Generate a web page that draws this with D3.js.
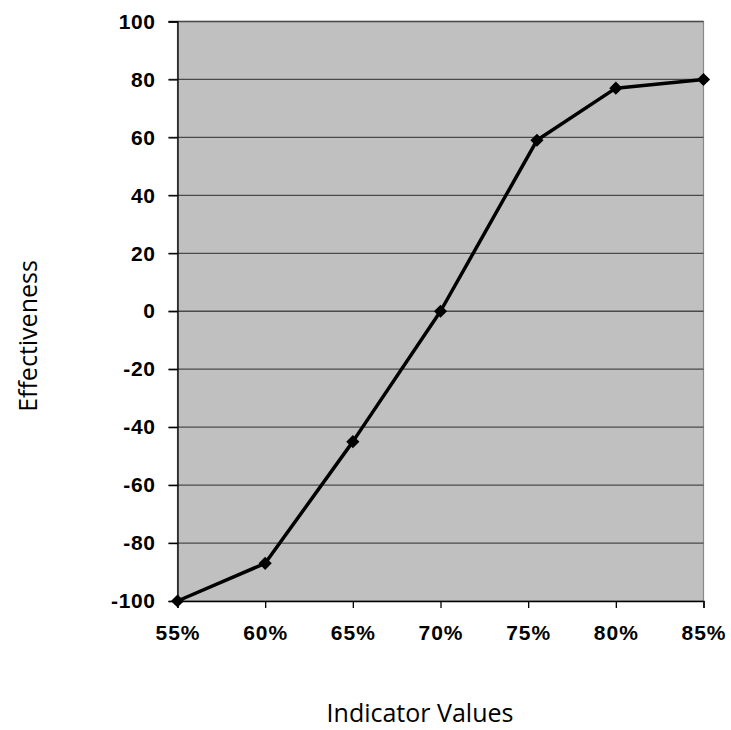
<!DOCTYPE html>
<html><head><meta charset="utf-8">
<script src="https://cdn.jsdelivr.net/npm/d3@7"></script>
<style>body{margin:0;background:#fff}</style>
</head><body>
<svg id="c" width="731" height="730"></svg>
<script>
const xValues = [55, 60, 65, 70, 75.5, 80, 85];
const effectiveness = [-100, -87, -45, 0, 59, 77, 80];
const xTicks = [55, 60, 65, 70, 75, 80, 85];
const yTicks = [-100, -80, -60, -40, -20, 0, 20, 40, 60, 80, 100];
const xTitle = "Indicator Values";
const yTitle = "Effectiveness";

const svg = d3.select("#c");
const L = 177.5, R = 703.5, T = 21.5, B = 601;
const x = d3.scaleLinear().domain([55, 85]).range([L, R]);
const y = d3.scaleLinear().domain([-100, 100]).range([B, T]);

svg.append("rect").attr("x", L).attr("y", T).attr("width", R - L).attr("height", B - T)
  .attr("fill", "#c0c0c0").attr("stroke", "#888").attr("stroke-width", 1.2);

// gridlines
svg.append("g").selectAll("line").data(yTicks.filter(d => d > -100)).join("line")
  .attr("x1", L - 9).attr("x2", R).attr("y1", d => y(d)).attr("y2", d => y(d))
  .attr("stroke", "#4a4a4a").attr("stroke-width", 1.3);

const tickFont = "Liberation Sans, Arial, sans-serif";
// y axis
const yAxis = svg.append("g").attr("transform", `translate(${L},0)`)
  .call(d3.axisLeft(y).tickValues(yTicks).tickSize(9).tickFormat(d => String(d)).tickPadding(13));
yAxis.select(".domain").attr("stroke", "#000").attr("stroke-width", 1.3);
yAxis.selectAll("line").attr("stroke", "#000").attr("stroke-width", 1.3);
yAxis.selectAll("text").attr("font-family", tickFont)
  .attr("font-weight", "bold").attr("font-size", 21).attr("letter-spacing", 0.6).attr("fill", "#000");

// x axis
const xAxis = svg.append("g").attr("transform", `translate(0,${B})`)
  .call(d3.axisBottom(x).tickValues(xTicks).tickSize(7).tickFormat(d => d + "%").tickPadding(17));
xAxis.select(".domain").attr("stroke", "#000").attr("stroke-width", 1.3);
xAxis.selectAll("line").attr("stroke", "#000").attr("stroke-width", 1.3);
xAxis.selectAll("text").attr("font-family", tickFont)
  .attr("font-weight", "bold").attr("font-size", 21).attr("letter-spacing", 1).attr("fill", "#000");

const pts = xValues.map((v, i) => [v, effectiveness[i]]);
svg.append("path").datum(pts)
  .attr("d", d3.line().x(d => x(d[0])).y(d => y(d[1])))
  .attr("fill", "none").attr("stroke", "#000").attr("stroke-width", 3.5).attr("stroke-linejoin", "round");

svg.append("g").selectAll("path").data(pts).join("path")
  .attr("transform", d => `translate(${x(d[0])},${y(d[1])})`)
  .attr("d", d3.symbol(d3.symbolDiamond2, 110))
  .attr("fill", "#000");

svg.append("text").attr("x", 420).attr("y", 722).attr("text-anchor", "middle")
  .attr("font-family", "Open Sans, Noto Sans, sans-serif").attr("font-size", 25).attr("fill", "#000")
  .text(xTitle);
svg.append("text").attr("transform", "translate(37,336) rotate(-90)").attr("text-anchor", "middle")
  .attr("font-family", "Open Sans, Noto Sans, sans-serif").attr("font-size", 25).attr("fill", "#000")
  .text(yTitle);
</script>
</body></html>
